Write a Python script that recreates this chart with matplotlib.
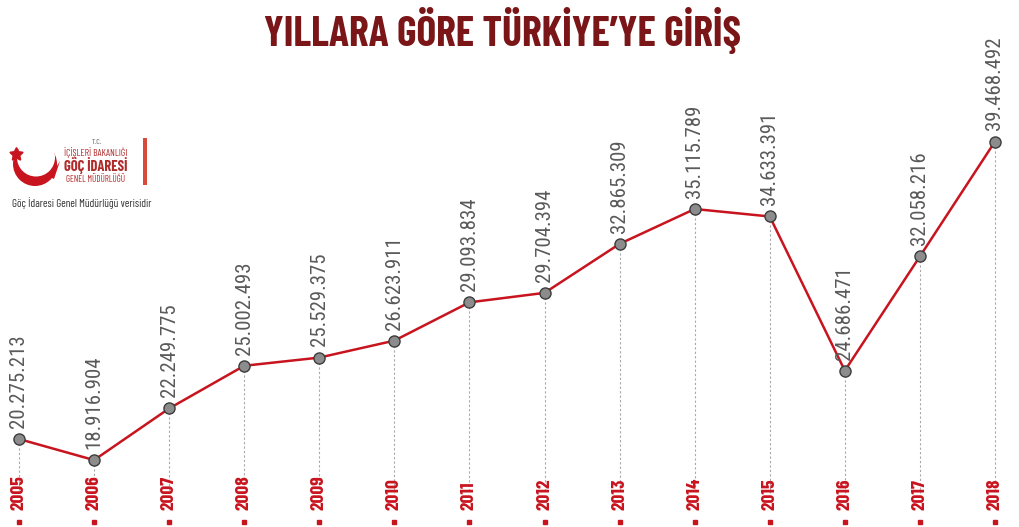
import matplotlib.pyplot as plt
import matplotlib.transforms as mtransforms
from matplotlib.patches import Circle, Rectangle, Polygon
import numpy as np

years = ["2005", "2006", "2007", "2008", "2009", "2010", "2011",
         "2012", "2013", "2014", "2015", "2016", "2017", "2018"]
entries = [20275213, 18916904, 22249775, 25002493, 25529375, 26623911, 29093834,
           29704394, 32865309, 35115789, 34633391, 24686471, 32058216, 39468492]
labels = ["20.275.213", "18.916.904", "22.249.775", "25.002.493", "25.529.375",
          "26.623.911", "29.093.834", "29.704.394", "32.865.309", "35.115.789",
          "34.633.391", "24.686.471", "32.058.216", "39.468.492"]

COND = "Barlow Condensed"
NUMS = "Roboto Condensed"
RED = "#c8141e"
DARKRED = "#7a1518"

fig = plt.figure(figsize=(10.19, 5.27), dpi=100)
ax = fig.add_axes([0, 0, 1, 1])
ax.set_axis_off()

x = np.arange(len(years))
y = np.array(entries) / 1e6

ax.set_xlim(-0.253, 13.32)
ax.set_ylim(14.6, 48.6)
xa = mtransforms.blended_transform_factory(ax.transData, ax.transAxes)

# dotted drop lines from each point down to the year labels
for xi, yi in zip(x, y):
    ax.plot([xi, xi], [yi, 16.8], color="#a8a8a8", lw=0.8,
            ls=(0, (2, 2)), zorder=1)

ax.plot(x, y, color=RED, lw=1.8, zorder=2)
ax.plot(x, y, "o", ms=8, mfc="#8c8c8c", mec="#3c3c3c", mew=1.0, zorder=3)

for xi, yi, lab in zip(x, y, labels):
    ax.annotate(lab, (xi, yi), xytext=(0, 8), textcoords="offset points",
                rotation=90, ha="center", va="bottom", fontsize=15,
                family=NUMS, weight="normal", color="#5a5a5a")

# baseline with small red squares and year labels
ax.axhline(0.01, color="#d4d4d4", lw=1.5, zorder=1)
ax.plot(x, np.full(len(x), 0.01), "s", ms=3.5, color=RED, zorder=2,
        transform=xa)
for xi, yr in zip(x, years):
    ax.text(xi, 0.032, yr, transform=xa, rotation=90, ha="center", va="bottom",
            fontsize=14, family=COND, weight="bold", color=RED)

# title
fig.text(0.493, 0.943, "YILLARA GÖRE TÜRKİYE’YE GİRİŞ", ha="center", va="center",
         fontsize=30, family=COND, weight="bold", color=DARKRED)

# logo
lax = fig.add_axes([0, 0, 1, 1], zorder=5)
lax.set_xlim(0, 1019)
lax.set_ylim(527, 0)
lax.set_axis_off()
lax.patch.set_alpha(0)
lax.add_patch(Circle((35, 164), 22, color=RED, lw=0))
lax.add_patch(Circle((36, 157.5), 19, color="white", lw=0))
lax.add_patch(Polygon([(50, 177), (60, 161), (54, 179)], color=RED, lw=0))
lax.plot(16, 154, marker=(5, 1, 0), ms=10, color=RED)
lax.add_patch(Rectangle((143, 138), 4, 47, color="#d84a3a", lw=0))
lax.text(97, 142, "T.C.", ha="center", va="center", fontsize=6,
         family=COND, color="#666666")
lax.text(96, 153, "İÇİŞLERİ BAKANLIĞI", ha="center", va="center", fontsize=7,
         family=COND, color="#b02a2a")
lax.text(96, 166, "GÖÇ İDARESİ", ha="center", va="center", fontsize=10.5,
         family=COND, weight="bold", color="#b02a2a")
lax.text(96, 180, "GENEL MÜDÜRLÜĞÜ", ha="center", va="center", fontsize=6.5,
         family=COND, color="#b02a2a")
lax.text(12, 203, "Göç İdaresi Genel Müdürlüğü verisidir", ha="left", va="center",
         fontsize=8, family=COND, color="#333333")

fig.savefig("out.png", dpi=100)
